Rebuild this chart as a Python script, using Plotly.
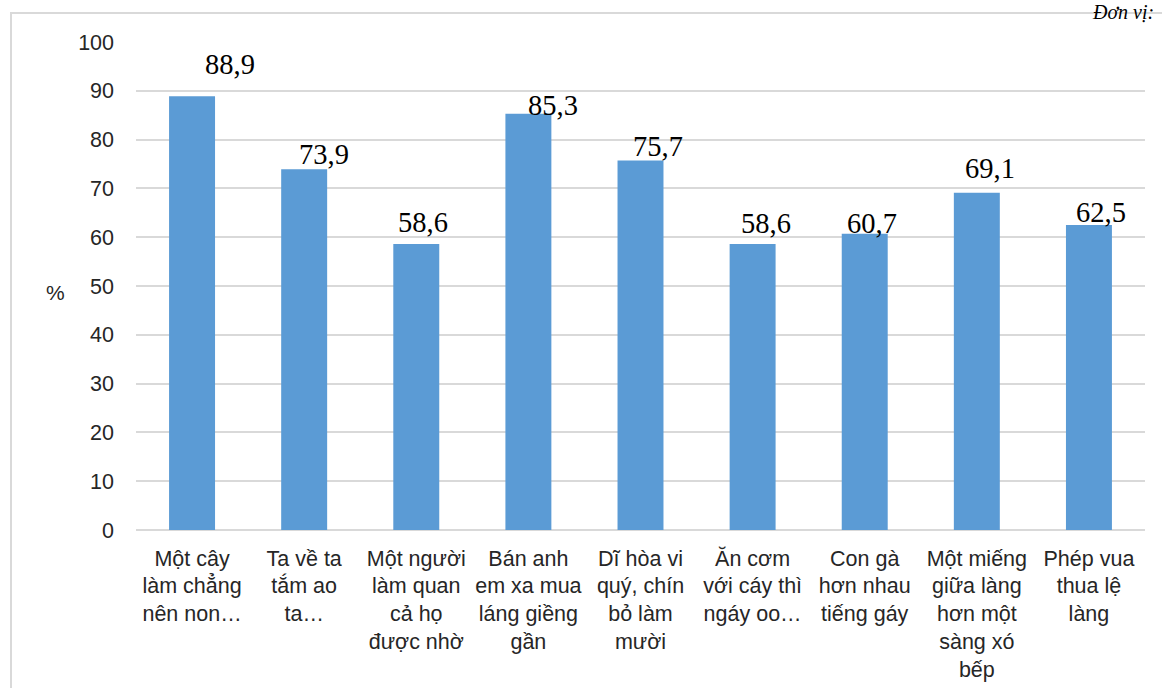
import plotly.graph_objects as go

categories = [
    "Một cây<br>làm chẳng<br>nên non…",
    "Ta về ta<br>tắm ao<br>ta…",
    "Một người<br>làm quan<br>cả họ<br>được nhờ",
    "Bán anh<br>em xa mua<br>láng giềng<br>gần",
    "Dĩ hòa vi<br>quý, chín<br>bỏ làm<br>mười",
    "Ăn cơm<br>với cáy thì<br>ngáy oo…",
    "Con gà<br>hơn nhau<br>tiếng gáy",
    "Một miếng<br>giữa làng<br>hơn một<br>sàng xó<br>bếp",
    "Phép vua<br>thua lệ<br>làng",
]
values = [88.9, 73.9, 58.6, 85.3, 75.7, 58.6, 60.7, 69.1, 62.5]
value_labels = ["88,9", "73,9", "58,6", "85,3", "75,7", "58,6", "60,7", "69,1", "62,5"]
y_ticks = [0, 10, 20, 30, 40, 50, 60, 70, 80, 90, 100]

# label offsets in pixels (style)
label_dx = [38, 20, 7, 25, 17, 13, 7, 13, 12]
label_dy = [32, 15, 22, 8, 14, 21, 10, 24, 13]

W, H = 1162, 688
ML, MT = 136, 42
MR = W - 1145
MB = H - 530
PW, PH = W - ML - MR, H - MT - MB

def px_x(p):
    return (p - ML) / PW

def px_y(p):
    return (H - MB - p) / PH

fig = go.Figure(go.Bar(
    x=categories, y=values,
    marker=dict(color="#5B9BD5", line=dict(width=0)),
    hoverinfo="skip",
))

annotations = []
for c, v, t, dx, dy in zip(categories, values, value_labels, label_dx, label_dy):
    annotations.append(dict(
        x=c, y=v, xref="x", yref="y", text=t, showarrow=False,
        xanchor="center", yanchor="middle", xshift=dx, yshift=dy,
        font=dict(family="Liberation Serif, Times New Roman, serif", size=28.5, color="#000000"),
    ))

annotations.append(dict(
    x=px_x(55), y=px_y(292), xref="paper", yref="paper", text="%",
    showarrow=False, xanchor="center", yanchor="middle",
    font=dict(family="Liberation Sans, Arial, sans-serif", size=21, color="#262626"),
))
annotations.append(dict(
    x=px_x(1156), y=px_y(-1), xref="paper", yref="paper", text="<i>Đơn vị:</i>",
    showarrow=False, xanchor="right", yanchor="top",
    font=dict(family="Liberation Serif, Times New Roman, serif", size=20, color="#000000"),
))

fig.update_layout(
    width=W, height=H,
    margin=dict(l=ML, r=MR, t=MT, b=MB, pad=0, autoexpand=False),
    paper_bgcolor="white", plot_bgcolor="white",
    bargap=0.59,
    showlegend=False,
    hovermode=False,
    annotations=annotations,
    shapes=[dict(
        type="rect", xref="paper", yref="paper",
        x0=px_x(11), x1=px_x(W + 30), y0=px_y(H + 30), y1=px_y(13),
        line=dict(color="#D9D9D9", width=2), fillcolor="rgba(0,0,0,0)", layer="below",
    )],
    xaxis=dict(
        showgrid=False, showline=False, zeroline=False, ticks="", automargin=False,
        tickfont=dict(family="Liberation Sans, Arial, sans-serif", size=21.5, color="#262626"),
        ticklabelstandoff=13, tickangle=0,
    ),
    yaxis=dict(
        range=[0, 100], tickvals=y_ticks, showgrid=True, gridcolor="#D9D9D9", gridwidth=1.5,
        zeroline=True, zerolinecolor="#D9D9D9", zerolinewidth=1.5, showline=False, ticks="",
        automargin=False,
        tickfont=dict(family="Liberation Sans, Arial, sans-serif", size=21.5, color="#262626"),
        ticklabelstandoff=21,
    ),
)

fig.write_html("out.html", config={"displayModeBar": False},
               post_script="document.body.style.margin='0';")
